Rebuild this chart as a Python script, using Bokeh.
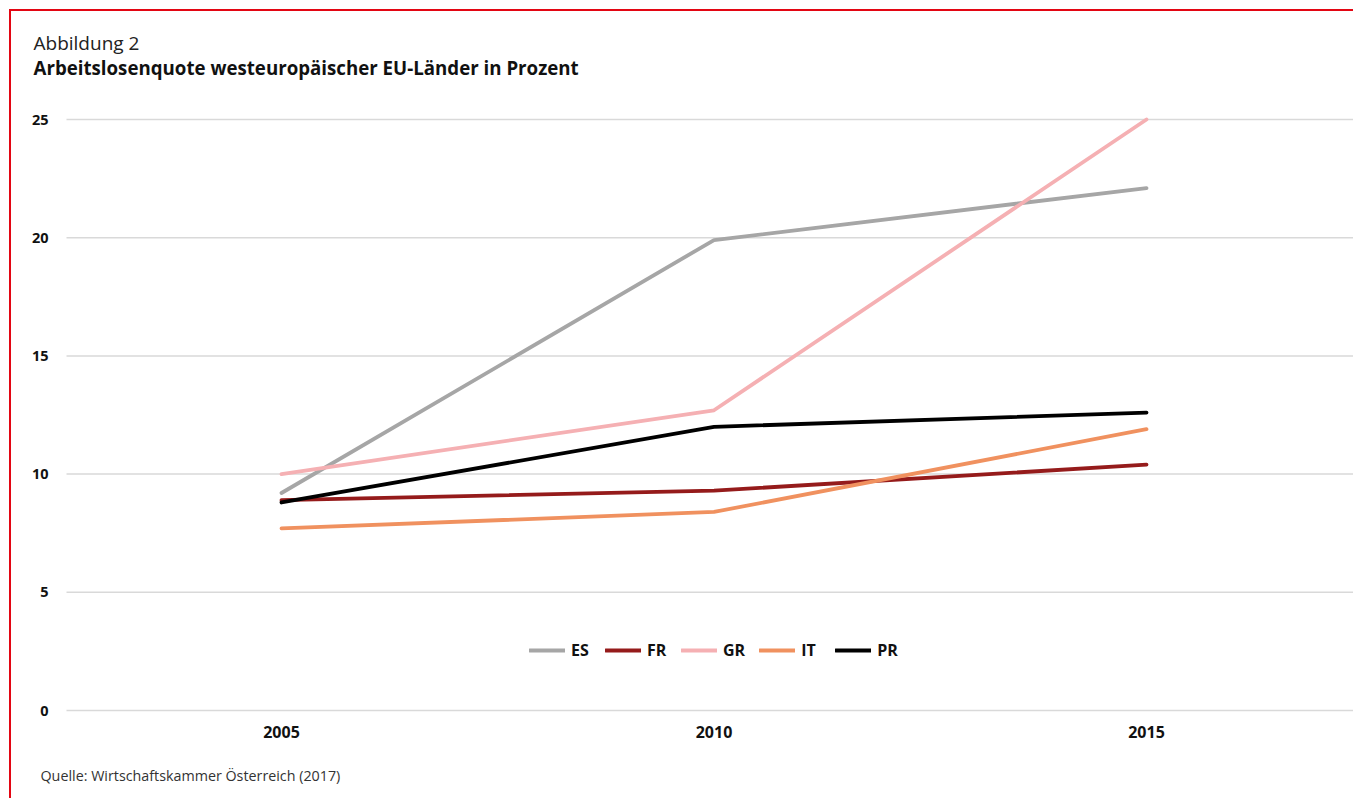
from bokeh.plotting import figure
from bokeh.models import Range1d, Legend, LegendItem, Label, ColumnDataSource
from bokeh.core.properties import value
from bokeh.embed import file_html
from bokeh.resources import INLINE

years = [2005, 2010, 2015]
year_labels = ["2005", "2010", "2015"]
countries = ["ES", "FR", "GR", "IT", "PR"]
es = [9.2, 19.9, 22.1]
fr = [8.9, 9.3, 10.4]
gr = [10.0, 12.7, 25.0]
it = [7.7, 8.4, 11.9]
pr = [8.8, 12.0, 12.6]
series = [es, fr, gr, it, pr]
colors = ["#a6a6a6", "#951b1b", "#f5b0b3", "#f0915f", "#000000"]
y_ticks = [0, 5, 10, 15, 20, 25]
y_tick_labels = ["0", "5", "10", "15", "20", "25"]

FONT = "Open Sans"
PX_PER_UNIT = 23.64
PX_PER_YEAR = 86.5


def vy(page_y):
    return (710 - page_y) / PX_PER_UNIT


def vx(page_x):
    return 2005 + (page_x - 281) / PX_PER_YEAR


# canvas origin sits at page (11, 11); the frame fills the whole canvas
p = figure(width=1344, height=789, output_backend="svg", toolbar_location=None,
           x_range=Range1d(vx(11), vx(1355)), y_range=Range1d(vy(800), vy(11)),
           min_border_left=0, min_border_right=0, min_border_top=0, min_border_bottom=0,
           styles={"border-top": "2px solid #e30613", "border-left": "2px solid #e30613",
                   "margin-left": "9px", "margin-top": "9px"})
p.outline_line_color = None
p.background_fill_color = "white"
p.border_fill_color = "white"
p.xaxis.visible = False
p.yaxis.visible = False
p.grid.visible = False

# horizontal gridlines at the y ticks
n = len(y_ticks)
p.segment(x0=[vx(66)] * n, y0=y_ticks, x1=[vx(1360)] * n, y1=y_ticks,
          line_color="#d9d9d9", line_width=1.5)

# y tick labels
ysrc = ColumnDataSource(dict(x=[vx(48)] * n, y=y_ticks, t=y_tick_labels))
p.text(x="x", y="y", text="t", source=ysrc, text_font=value(FONT), text_font_style="bold",
       text_font_size="14.5px", text_color="#111111", text_align="right", text_baseline="middle")

# x tick labels
xsrc = ColumnDataSource(dict(x=years, y=[vy(731)] * len(years), t=year_labels))
p.text(x="x", y="y", text="t", source=xsrc, text_font=value(FONT), text_font_style="bold",
       text_font_size="16px", text_color="#111111", text_align="center", text_baseline="middle")

items = []
for name, vals, col in zip(countries, series, colors):
    r = p.line(years, vals, line_color=col, line_width=3.8, line_cap="round", line_join="round")
    items.append(LegendItem(label=name, renderers=[r]))

legend = Legend(items=items, orientation="horizontal", location=(518, 139),
                glyph_width=36, glyph_height=14, label_standoff=6, spacing=14,
                padding=0, margin=0, border_line_color=None, background_fill_alpha=0,
                label_text_font=FONT, label_text_font_style="bold",
                label_text_font_size="16px", label_text_color="#111111")
p.add_layout(legend, "center")

p.add_layout(Label(x=vx(33), y=vy(42), text="Abbildung 2", text_font=FONT,
                   text_font_size="19px", text_color="#222222", text_baseline="middle",
                   text_align="left"))
p.add_layout(Label(x=vx(33), y=vy(67), text="Arbeitslosenquote westeuropäischer EU-Länder in Prozent",
                   text_font=FONT, text_font_style="bold", text_font_size="18.7px",
                   text_color="#111111", text_baseline="middle", text_align="left"))
p.add_layout(Label(x=vx(40), y=vy(775), text="Quelle: Wirtschaftskammer Österreich (2017)",
                   text_font=FONT, text_font_size="14.3px", text_color="#333333",
                   text_baseline="middle", text_align="left"))

open("out.html", "w").write(file_html(p, INLINE))
